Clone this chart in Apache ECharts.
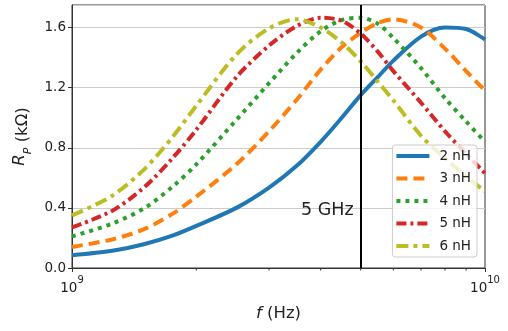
<!DOCTYPE html>
<html>
<head>
<meta charset="utf-8">
<script src="https://cdn.jsdelivr.net/npm/echarts@6/dist/echarts.min.js"></script>
<style>
html,body{margin:0;padding:0;background:#fff;}
#chart{width:508px;height:331px;}
</style>
</head>
<body>
<div id="chart"></div>
<script>
// Frequencies (Hz)
var freqs = [1e9, 1.25e9, 1.5e9, 1.75e9, 2e9, 2.5e9, 3e9, 3.5e9, 4e9, 4.5e9, 5e9, 5.5e9, 6e9, 7e9, 8e9, 9e9, 1e10];
// R_P (kOhm) for each inductance
var rp2nH = [0.085, 0.115, 0.16, 0.215, 0.28, 0.40, 0.535, 0.68, 0.84, 1.00, 1.15, 1.27, 1.38, 1.54, 1.60, 1.59, 1.52];
var rp3nH = [0.14, 0.19, 0.26, 0.36, 0.475, 0.69, 0.91, 1.12, 1.32, 1.47, 1.565, 1.63, 1.655, 1.60, 1.46, 1.31, 1.18];
var rp4nH = [0.21, 0.295, 0.40, 0.54, 0.69, 0.985, 1.23, 1.43, 1.575, 1.65, 1.665, 1.625, 1.53, 1.33, 1.13, 0.975, 0.84];
var rp5nH = [0.27, 0.38, 0.54, 0.73, 0.92, 1.27, 1.48, 1.61, 1.665, 1.645, 1.56, 1.44, 1.31, 1.10, 0.91, 0.76, 0.63];
var rp6nH = [0.35, 0.48, 0.66, 0.87, 1.08, 1.42, 1.595, 1.655, 1.60, 1.50, 1.375, 1.24, 1.115, 0.88, 0.73, 0.61, 0.51];
var seriesNames = ['2 nH', '3 nH', '4 nH', '5 nH', '6 nH'];
var minorTicks = [2e9, 3e9, 4e9, 5e9, 6e9, 7e9, 8e9, 9e9];
var markerFreq = 5e9;
var markerLabel = '5 GHz';
var markerLabelY = 0.385;

var colors = ['#1f77b4', '#ff7f0e', '#2ca02c', '#d62728', '#bcbd22'];
var dashes = ['solid', [11, 6], [4, 5], [10, 4, 3, 4], [12, 5, 4, 5]];
var allVals = [rp2nH, rp3nH, rp4nH, rp5nH, rp6nH];

function pairs(vals) {
  return freqs.map(function (f, i) { return [f, vals[i]]; });
}

var series = allVals.map(function (vals, k) {
  return {
    name: seriesNames[k],
    type: 'line',
    data: pairs(vals),
    smooth: 0.3,
    showSymbol: false,
    symbol: 'none',
    z: 2,
    lineStyle: { color: colors[k], width: 4, type: dashes[k], cap: 'butt' },
    itemStyle: { color: colors[k] }
  };
});

series.push({
  type: 'line',
  data: [],
  z: 3,
  markLine: {
    silent: true,
    symbol: ['none', 'none'],
    label: { show: false },
    lineStyle: { color: '#000', width: 2, type: 'solid' },
    data: [{ xAxis: markerFreq }]
  }
});

series.push({
  type: 'custom',
  silent: true,
  z: 5,
  data: [[markerFreq, markerLabelY]],
  renderItem: function (params, api) {
    var p = api.coord([api.value(0), api.value(1)]);
    return {
      type: 'text',
      x: p[0] - 7,
      y: p[1],
      style: {
        text: markerLabel,
        fill: '#222',
        font: '17.5px "DejaVu Sans"',
        textAlign: 'right',
        textVerticalAlign: 'middle'
      }
    };
  }
});

series.push({
  type: 'custom',
  silent: true,
  z: 5,
  clip: false,
  data: minorTicks.map(function (v) { return [v, 0]; }),
  renderItem: function (params, api) {
    var p = api.coord([api.value(0), api.value(1)]);
    return {
      type: 'line',
      shape: { x1: p[0], y1: p[1], x2: p[0], y2: p[1] + 2.5 },
      style: { stroke: '#333', lineWidth: 1 }
    };
  }
});

var chart = echarts.init(document.getElementById('chart'), null, { renderer: 'canvas' });
chart.setOption({
  animation: false,
  backgroundColor: '#fff',
  textStyle: { fontFamily: 'DejaVu Sans' },
  grid: {
    left: 72, right: 23, top: 5, bottom: 63,
    show: true, borderColor: '#333', borderWidth: 1, backgroundColor: 'transparent'
  },
  legend: {
    data: seriesNames,
    orient: 'vertical',
    right: 31,
    top: 145,
    itemWidth: 33,
    itemHeight: 14,
    itemGap: 8.5,
    padding: [4, 6, 4, 2],
    backgroundColor: 'rgba(255,255,255,0.8)',
    borderColor: '#cccccc',
    borderWidth: 1,
    borderRadius: 3,
    itemStyle: { opacity: 0 },
    lineStyle: { width: 4 },
    textStyle: { fontSize: 13.5, color: '#222', fontFamily: 'DejaVu Sans', padding: [0, 0, 0, 5] }
  },
  xAxis: {
    type: 'log',
    logBase: 10,
    min: 1e9,
    max: 1e10,
    name: '{i|f} (Hz)',
    nameLocation: 'middle',
    nameGap: 37,
    nameTextStyle: {
      fontSize: 16.5, color: '#222', fontFamily: 'DejaVu Sans',
      rich: { i: { fontStyle: 'italic', fontSize: 16.5, color: '#222', fontFamily: 'DejaVu Sans' } }
    },
    axisLine: { show: true, lineStyle: { color: '#333', width: 1 } },
    axisTick: { show: true, inside: false, length: 4, lineStyle: { color: '#333' } },
    splitLine: { show: false },
    axisLabel: {
      margin: 7,
      color: '#222',
      formatter: function (v) {
        var e = Math.round(Math.log10(v));
        return '{b|10}{s|' + e + '}';
      },
      rich: {
        b: { fontSize: 13.5, color: '#222', fontFamily: 'DejaVu Sans', verticalAlign: 'bottom', lineHeight: 20 },
        s: { fontSize: 10, color: '#222', fontFamily: 'DejaVu Sans', verticalAlign: 'top', lineHeight: 20 }
      }
    }
  },
  yAxis: {
    type: 'value',
    min: 0,
    max: 1.75,
    interval: 0.4,
    name: '{i|R}{s|P} (kΩ)',
    nameLocation: 'middle',
    nameGap: 38,
    nameTextStyle: {
      fontSize: 16.5, color: '#222', fontFamily: 'DejaVu Sans',
      rich: {
        i: { fontStyle: 'italic', fontSize: 16.5, color: '#222', fontFamily: 'DejaVu Sans', verticalAlign: 'top', lineHeight: 22 },
        s: { fontStyle: 'italic', fontSize: 11, color: '#222', fontFamily: 'DejaVu Sans', verticalAlign: 'bottom', lineHeight: 22 }
      }
    },
    axisLine: { show: true, lineStyle: { color: '#333', width: 1 } },
    axisTick: { show: true, inside: false, length: 4, lineStyle: { color: '#333' } },
    splitLine: { show: true, lineStyle: { color: '#cccccc', width: 1 } },
    axisLabel: {
      showMaxLabel: false,
      margin: 6,
      fontSize: 13.5,
      color: '#222',
      fontFamily: 'DejaVu Sans',
      formatter: function (v) { return v.toFixed(1); }
    }
  },
  series: series
});
</script>
</body>
</html>
